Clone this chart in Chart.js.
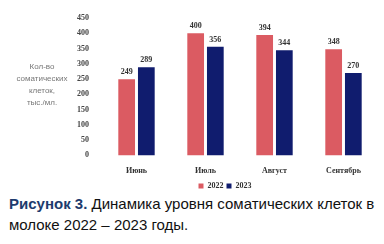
<!DOCTYPE html>
<html>
<head>
<meta charset="utf-8">
<script src="https://cdn.jsdelivr.net/npm/chart.js@4"></script>
<style>
  html, body { margin: 0; padding: 0; background: #fff; }
  body { width: 384px; height: 244px; overflow: hidden; }
  #wrap { position: relative; width: 384px; height: 200px; }
  .cap { font-family: "Liberation Sans", Arial, sans-serif; font-size: 15px; line-height: 21px; color: #111; margin: -7px 0 0 9px; }
  .cap b { color: #1d3b6d; }
</style>
</head>
<body>
<div id="wrap"><canvas id="chart"></canvas></div>
<div class="cap"><b>Рисунок 3.</b> Динамика уровня соматических клеток в молоке 2022 – 2023 годы.</div>
<script>
const months = ['Июнь', 'Июль', 'Август', 'Сентябрь'];
const values2022 = [249, 400, 394, 348];
const values2023 = [289, 356, 344, 270];
const yTitle = ['Кол-во', 'соматических', 'клеток,', 'тыс./мл.'];

const serif = '"Liberation Serif", "Times New Roman", serif';

// value labels above bars + left axis title
const extras = {
  id: 'extras',
  afterDatasetsDraw(chart) {
    const ctx = chart.ctx;
    ctx.save();
    ctx.font = 'bold 8px ' + serif;
    ctx.fillStyle = '#333';
    ctx.textAlign = 'center';
    ctx.textBaseline = 'bottom';
    chart.data.datasets.forEach((ds, i) => {
      chart.getDatasetMeta(i).data.forEach((bar, j) => {
        ctx.fillText(ds.data[j], bar.x, bar.y - 3);
      });
    });
    ctx.font = '8px "Liberation Sans", Arial, sans-serif';
    ctx.fillStyle = '#777';
    ctx.textBaseline = 'middle';
    yTitle.forEach((t, k) => ctx.fillText(t, 42, 67 + k * 12));
    ctx.restore();
  }
};

new Chart(document.getElementById('chart'), {
  type: 'bar',
  data: {
    labels: months,
    datasets: [
      { label: '2022', data: values2022, backgroundColor: '#db5b62' },
      { label: '2023', data: values2023, backgroundColor: '#101c6e' }
    ]
  },
  options: {
    responsive: true,
    maintainAspectRatio: false,
    animation: false,
    layout: { padding: { left: 72, right: 6, top: 18, bottom: 0 } },
    datasets: { bar: { categoryPercentage: 0.57, barPercentage: 0.85 } },
    scales: {
      x: {
        grid: { display: false },
        border: { display: false },
        ticks: { font: { family: serif, size: 8, weight: 'bold' }, color: '#333', padding: 3 }
      },
      y: {
        min: 0, max: 450,
        grid: { display: false },
        border: { display: false },
        ticks: { stepSize: 50, font: { family: serif, size: 8, weight: 'bold' }, color: '#444', padding: 5 }
      }
    },
    plugins: {
      legend: {
        position: 'bottom',
        labels: { boxWidth: 5, boxHeight: 5, padding: 3, font: { family: serif, size: 8, weight: 'bold' }, color: '#333' }
      },
      tooltip: { enabled: false }
    }
  },
  plugins: [extras]
});
</script>
</body>
</html>
